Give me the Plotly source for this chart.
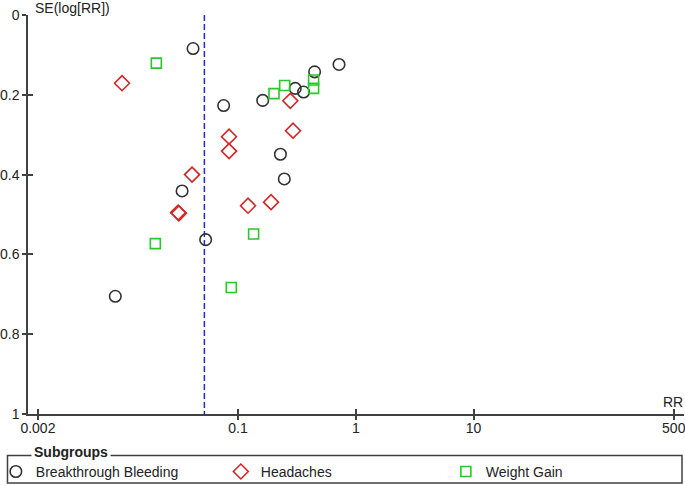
import plotly.graph_objects as go

# Data
bleeding_rr = [0.0415, 0.720, 0.447, 0.306, 0.360, 0.162, 0.0755, 0.229, 0.247, 0.0335, 0.0531, 0.00908]
bleeding_se = [0.084, 0.124, 0.1425, 0.184, 0.193, 0.214, 0.227, 0.349, 0.411, 0.441, 0.563, 0.705]

headache_rr = [0.01036, 0.278, 0.293, 0.0839, 0.0839, 0.0407, 0.1906, 0.1216, 0.0310, 0.0315]
headache_se = [0.171, 0.215, 0.290, 0.305, 0.341, 0.400, 0.469, 0.478, 0.495, 0.497]

weight_rr = [0.02025, 0.438, 0.249, 0.438, 0.202, 0.1356, 0.01986, 0.0877]
weight_se = [0.1207, 0.163, 0.1767, 0.184, 0.197, 0.549, 0.573, 0.683]

pooled_rr = 0.0518
se_span = [0, 1]

x_tickvals = [0.002, 0.1, 1, 10, 500]
x_ticktext = ["0.002", "0.1", "1", "10", "500"]
y_tickvals = [0, 0.2, 0.4, 0.6, 0.8, 1]
y_ticktext = ["0", "0.2", "0.4", "0.6", "0.8", "1"]

FONT = "Liberation Sans, Arial, sans-serif"
TXT = "#222222"
AX = "#404040"

fig = go.Figure()

fig.add_trace(go.Scatter(
    x=[pooled_rr, pooled_rr], y=se_span, mode="lines",
    line=dict(color="#2a2acc", width=1.5, dash="6px,3px"),
    showlegend=False, hoverinfo="skip"))

fig.add_trace(go.Scatter(
    x=bleeding_rr, y=bleeding_se, mode="markers", name="Breakthrough Bleeding",
    marker=dict(symbol="circle-open", size=11.5, color="#333333", line=dict(width=1.6, color="#333333"))))
fig.add_trace(go.Scatter(
    x=headache_rr, y=headache_se, mode="markers", name="Headaches",
    marker=dict(symbol="diamond-open", size=11.5, color="#d42424", line=dict(width=1.6, color="#d42424"))))
fig.add_trace(go.Scatter(
    x=weight_rr, y=weight_se, mode="markers", name="Weight Gain",
    marker=dict(symbol="square-open", size=10, color="#28c828", line=dict(width=1.6, color="#28c828"))))

# invisible trace to bind overlay axes (for crossing ticks)
fig.add_trace(go.Scatter(x=[1], y=[0.5], xaxis="x2", yaxis="y2", mode="markers",
                         marker=dict(opacity=0), showlegend=False, hoverinfo="skip"))

xr = [-2.783, 2.786]
fig.update_layout(
    width=685, height=486,
    margin=dict(l=28, r=1, t=15, b=72, autoexpand=False),
    paper_bgcolor="white", plot_bgcolor="white",
    font=dict(family=FONT, size=14, color=TXT),
    xaxis=dict(type="log", range=xr, tickmode="array", tickvals=x_tickvals, ticktext=x_ticktext,
               showgrid=False, zeroline=False, showline=True, linecolor=AX, linewidth=1.5,
               ticks="outside", ticklen=4, tickwidth=1.5, tickcolor=AX, automargin=False,
               ticklabelstandoff=-4, ticklabeloverflow="allow",
               tickfont=dict(family=FONT, size=14, color=TXT)),
    yaxis=dict(range=[1, 0], tickmode="array", tickvals=y_tickvals, ticktext=y_ticktext,
               showgrid=False, zeroline=False, showline=True, linecolor=AX, linewidth=1.5,
               ticks="outside", ticklen=4, tickwidth=1.5, tickcolor=AX, automargin=False,
               ticklabeloverflow="allow",
               tickfont=dict(family=FONT, size=14, color=TXT)),
    xaxis2=dict(type="log", range=xr, overlaying="x", anchor="y2", tickmode="array",
                tickvals=x_tickvals, showticklabels=False, showgrid=False, zeroline=False,
                showline=False, ticks="inside", ticklen=5, tickwidth=1.5, tickcolor=AX),
    yaxis2=dict(range=[1, 0], overlaying="y", anchor="x2", tickmode="array",
                tickvals=y_tickvals, showticklabels=False, showgrid=False, zeroline=False,
                showline=False, ticks="inside", ticklen=5, tickwidth=1.5, tickcolor=AX),
    legend=dict(orientation="h", x=-0.049, xanchor="left", y=-0.105, yanchor="top",
                entrywidth=180, entrywidthmode="pixels", bgcolor="rgba(0,0,0,0)",
                font=dict(family=FONT, size=14, color=TXT), itemclick=False),
    showlegend=True,
)

# axis titles
fig.add_annotation(text="SE(log[RR])", xref="paper", yref="paper", x=5 / 656, y=1.0,
                   xanchor="left", yanchor="bottom", yshift=-3, showarrow=False,
                   font=dict(family=FONT, size=14, color=TXT))
fig.add_annotation(text="RR", xref="paper", yref="paper", x=1.0, y=0.0,
                   xanchor="right", yanchor="bottom", xshift=1, yshift=2, showarrow=False,
                   font=dict(family=FONT, size=14, color=TXT))

# legend frame (fieldset style)
px = lambda v: (v - 28) / 656
py = lambda v: (414 - v) / 399
fig.add_shape(type="rect", xref="paper", yref="paper", x0=px(7.5), x1=px(682), y0=py(483), y1=py(455.5),
              line=dict(color=AX, width=1.5), fillcolor="rgba(0,0,0,0)", layer="below")
fig.add_annotation(text="<b>Subgroups</b>", xref="paper", yref="paper", x=px(31), y=py(452),
                   xanchor="left", yanchor="middle", showarrow=False, bgcolor="white",
                   borderpad=2, font=dict(family=FONT, size=14, color=TXT))

fig.write_html("out.html", config={"displayModeBar": False},
               post_script="document.body.style.margin='0';document.body.style.overflow='hidden';")
